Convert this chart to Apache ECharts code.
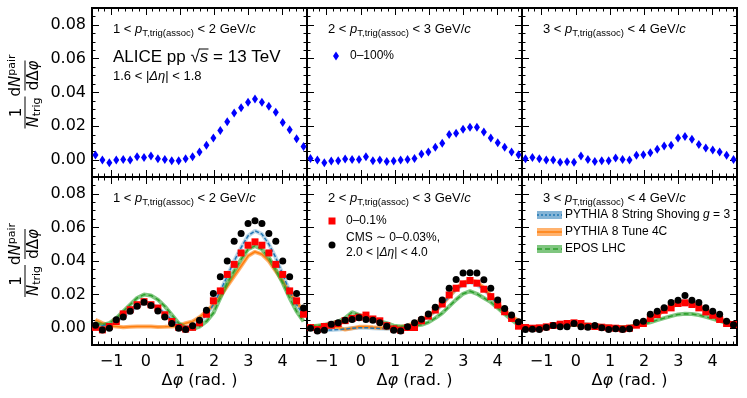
<!DOCTYPE html>
<html>
<head>
<meta charset="utf-8">
<script src="https://cdn.jsdelivr.net/npm/echarts@6/dist/echarts.min.js"></script>
<style>
html, body { margin: 0; padding: 0; background: #fff; }
#chart { width: 747px; height: 398px; }
</style>
</head>
<body>
<div id="chart"></div>
<script>
// delta phi bin centres, 31 bins over [-pi/2, 3pi/2]
var nBins = 31;
var dphi = [];
for (var i = 0; i < nBins; i++) dphi.push(-Math.PI / 2 + (i + 0.5) * 2 * Math.PI / nBins);

// top row: ALICE 0-100% (blue diamonds), one array per pT bin
var mb_pt12 = [0.003, 0.000, -0.0016, 0.000, 0.0004, 0.000, 0.002, 0.0016, 0.0024, 0.0008, 0.0004, -0.0004, -0.0004, 0.0008, 0.002, 0.0048, 0.0088, 0.0131, 0.0175, 0.0227, 0.0279, 0.031, 0.0342, 0.0362, 0.0342, 0.0318, 0.0283, 0.0223, 0.0179, 0.0127, 0.008];
var mb_pt23 = [0.001, 0.000, -0.0016, -0.0006, -0.0004, 0.0006, 0.0004, 0.0004, 0.002, -0.0004, 0.000, -0.0008, -0.0006, 0.000, 0.0004, 0.001, 0.0036, 0.0048, 0.0076, 0.010, 0.0151, 0.0159, 0.0183, 0.0195, 0.0195, 0.0167, 0.0131, 0.0103, 0.0076, 0.0048, 0.0032];
var mb_pt34 = [0.0008, 0.0016, 0.0008, 0.000, 0.000, -0.0012, -0.001, -0.0012, 0.0024, 0.0004, -0.0008, -0.0004, -0.0004, 0.0012, 0.0004, 0.000, 0.0028, 0.0032, 0.0044, 0.0064, 0.0084, 0.0088, 0.0131, 0.0139, 0.0123, 0.0092, 0.0072, 0.006, 0.0048, 0.0028, 0.0004];

// bottom row: ALICE 0-0.1% (red squares)
var hm_pt12 = [0.0005, -0.001, 0.001, 0.004, 0.0085, 0.011, 0.014, 0.0158, 0.014, 0.012, 0.008, 0.004, 0.0005, -0.0005, 0.0005, 0.0032, 0.0083, 0.0163, 0.0222, 0.032, 0.038, 0.0448, 0.0494, 0.0514, 0.0494, 0.0448, 0.038, 0.032, 0.0222, 0.0163, 0.0083];
var hm_pt23 = [0.0004, -0.0008, 0.001, 0.0018, 0.0028, 0.0045, 0.0058, 0.0065, 0.0078, 0.0055, 0.0044, 0.0015, -0.0004, -0.0012, 0.0004, 0.0004, 0.0044, 0.0072, 0.0108, 0.0144, 0.0198, 0.0238, 0.0264, 0.0284, 0.0268, 0.0232, 0.0188, 0.0138, 0.0098, 0.0058, 0.0012];
var hm_pt34 = [0.0004, 0.000, 0.0002, 0.0008, 0.0016, 0.0024, 0.0028, 0.0032, 0.0028, 0.0012, 0.001, 0.0006, 0.0002, 0.000, -0.0004, 0.000, 0.0018, 0.0028, 0.0058, 0.0081, 0.0107, 0.0121, 0.0147, 0.0151, 0.0141, 0.0121, 0.0097, 0.0077, 0.0052, 0.0028, 0.0022];

// bottom row: CMS ~0-0.03% (black circles)
var cms_pt12 = [0.0018, -0.001, 0.000, 0.005, 0.0067, 0.0101, 0.0131, 0.0155, 0.0135, 0.0103, 0.0067, 0.0028, 0.000, -0.0008, 0.0014, 0.0048, 0.0107, 0.0206, 0.0306, 0.040, 0.0518, 0.0563, 0.0623, 0.0639, 0.0623, 0.0563, 0.0518, 0.040, 0.0306, 0.0206, 0.012];
var cms_pt23 = [0.000, -0.0016, -0.0012, 0.0024, 0.0032, 0.0048, 0.0052, 0.0062, 0.0052, 0.0048, 0.0032, 0.0012, -0.0012, -0.0016, 0.0008, 0.0032, 0.0054, 0.0084, 0.0124, 0.0168, 0.0238, 0.029, 0.0328, 0.033, 0.0328, 0.0288, 0.0238, 0.0168, 0.0118, 0.0078, 0.0038];
var cms_pt34 = [-0.0008, -0.0006, -0.0008, 0.0004, 0.0016, 0.0008, 0.0008, 0.0028, 0.0008, 0.0006, 0.0016, 0.0002, -0.0008, -0.0004, -0.0008, -0.0004, 0.0034, 0.0042, 0.0083, 0.0101, 0.0121, 0.0153, 0.0167, 0.0194, 0.0167, 0.0153, 0.0121, 0.0101, 0.0083, 0.0042, 0.002];

// models: PYTHIA 8 string shoving g=3
var shov_pt12 = [0.002, 0.0015, 0.002, 0.004, 0.007, 0.010, 0.013, 0.015, 0.0145, 0.012, 0.009, 0.005, 0.002, 0.0005, 0.001, 0.0035, 0.008, 0.014, 0.022, 0.031, 0.040, 0.048, 0.055, 0.058, 0.056, 0.050, 0.042, 0.032, 0.022, 0.014, 0.008];
var shov_pt23 = [0.000, -0.0008, -0.001, -0.001, -0.0008, -0.0005, 0.000, 0.0003, 0.0003, 0.000, -0.0002, -0.0003, -0.0003, 0.000, 0.001, 0.0025, 0.0045, 0.007, 0.010, 0.014, 0.019, 0.023, 0.026, 0.0275, 0.026, 0.023, 0.019, 0.014, 0.010, 0.006, 0.003];
var shov_pt34 = [0.000, 0.0002, 0.0005, 0.001, 0.0015, 0.002, 0.0023, 0.0025, 0.0023, 0.002, 0.0015, 0.001, 0.0006, 0.0004, 0.0004, 0.0008, 0.002, 0.0035, 0.0055, 0.008, 0.0105, 0.0128, 0.0145, 0.015, 0.0145, 0.0128, 0.0105, 0.008, 0.0058, 0.004, 0.0025];
// PYTHIA 8 Tune 4C
var t4c_pt12 = [0.005, 0.003, 0.0015, 0.001, 0.0005, 0.0008, 0.001, 0.001, 0.001, 0.0007, 0.0008, 0.001, 0.0015, 0.003, 0.004, 0.0065, 0.010, 0.014, 0.019, 0.025, 0.031, 0.037, 0.043, 0.0455, 0.044, 0.040, 0.034, 0.028, 0.021, 0.015, 0.011];
var t4c_pt23 = [0.0012, 0.001, 0.0008, 0.0008, 0.0005, -0.0008, 0.000, 0.0008, 0.0008, 0.0005, 0.0003, 0.000, 0.0003, 0.0008, 0.0015, 0.003, 0.005, 0.0075, 0.0105, 0.0145, 0.019, 0.0235, 0.027, 0.0285, 0.0275, 0.024, 0.0195, 0.0145, 0.0105, 0.007, 0.0045];
var t4c_pt34 = [0.000, 0.0002, 0.0004, 0.0008, 0.0012, 0.0016, 0.002, 0.0022, 0.002, 0.0017, 0.0013, 0.001, 0.0006, 0.0004, 0.0004, 0.0008, 0.002, 0.0035, 0.0055, 0.008, 0.0105, 0.0128, 0.0145, 0.015, 0.0145, 0.0128, 0.0105, 0.008, 0.0058, 0.004, 0.0025];
// EPOS LHC
var epos_pt12 = [0.003, 0.002, 0.003, 0.006, 0.010, 0.014, 0.018, 0.020, 0.0195, 0.017, 0.013, 0.008, 0.003, 0.0005, -0.0005, 0.001, 0.004, 0.009, 0.018, 0.027, 0.034, 0.041, 0.047, 0.049, 0.047, 0.042, 0.035, 0.027, 0.018, 0.010, 0.004];
var epos_pt23 = [0.001, 0.0015, 0.002, 0.003, 0.004, 0.006, 0.0095, 0.008, 0.0065, 0.0055, 0.004, 0.003, 0.0015, 0.001, 0.001, 0.0015, 0.002, 0.0035, 0.006, 0.009, 0.013, 0.017, 0.0205, 0.022, 0.0205, 0.018, 0.0155, 0.012, 0.0085, 0.005, 0.002];
var epos_pt34 = [0.0005, 0.0005, 0.0008, 0.001, 0.0013, 0.0016, 0.0018, 0.002, 0.0022, 0.002, 0.0018, 0.0013, 0.001, 0.0006, 0.0005, 0.0008, 0.0015, 0.0025, 0.0035, 0.0048, 0.006, 0.0072, 0.0082, 0.0086, 0.0084, 0.0078, 0.0068, 0.0056, 0.0044, 0.003, 0.0015];

var ptLow = ['1', '2', '3'];
var ptHigh = ['2', '3', '4'];
var xTicks = [-1, 0, 1, 2, 3, 4];
var yTicks = [0, 0.02, 0.04, 0.06, 0.08];

var XMIN = -Math.PI / 2, XMAX = 3 * Math.PI / 2;
var YMIN = -0.01, YMAX = 0.09;
var F = 'DejaVu Sans';
var H = 'Liberation Sans';

var xMinor = [];
for (var k = -7; k <= 23; k++) { if (k % 5 !== 0) xMinor.push(k * 0.2); }
var yMinor = [];
for (var k = -1; k <= 17; k++) { if (k % 4 !== 0) yMinor.push(k * 0.005); }

var colLeft = [92, 307, 522];
var rowTop = [8, 177];
var panelW = 215, panelH = [169, 168];

var topData = [mb_pt12, mb_pt23, mb_pt34];
var hmData = [hm_pt12, hm_pt23, hm_pt34];
var cmsData = [cms_pt12, cms_pt23, cms_pt34];
var shovData = [shov_pt12, shov_pt23, shov_pt34];
var t4cData = [t4c_pt12, t4c_pt23, t4c_pt34];
var eposData = [epos_pt12, epos_pt23, epos_pt34];

function pairs(arr) { return arr.map(function (v, i) { return [dphi[i], v]; }); }

var grids = [], xAxes = [], yAxes = [], series = [];

function xAxis(p, pos, major, labels) {
  return {
    type: 'value', gridIndex: p, position: pos, min: XMIN, max: XMAX,
    axisLine: { show: false, onZero: false }, splitLine: { show: false },
    axisTick: { show: true, inside: true, length: major ? 7 : 3.5, lineStyle: { color: '#000', width: 1 },
      customValues: major ? xTicks : xMinor },
    axisLabel: { show: labels, customValues: xTicks, margin: 9, color: '#000', fontFamily: F, fontSize: 16,
      formatter: function (v) { return v < 0 ? '\u2212' + (-v) : String(v); } }
  };
}
function yAxis(p, pos, major, labels) {
  return {
    type: 'value', gridIndex: p, position: pos, min: YMIN, max: YMAX,
    axisLine: { show: false, onZero: false }, splitLine: { show: false },
    axisTick: { show: true, inside: true, length: major ? 7 : 3.5, lineStyle: { color: '#000', width: 1 },
      customValues: major ? yTicks : yMinor },
    axisLabel: { show: labels, customValues: yTicks, margin: 6, color: '#000', fontFamily: F, fontSize: 16,
      formatter: function (v) { return v.toFixed(2); } }
  };
}

for (var r = 0; r < 2; r++) {
  for (var c = 0; c < 3; c++) {
    var p = r * 3 + c;
    grids.push({ left: colLeft[c], top: rowTop[r], width: panelW, height: panelH[r],
      show: true, borderColor: '#000', borderWidth: 2, backgroundColor: 'transparent' });
    xAxes.push(xAxis(p, 'bottom', true, r === 1), xAxis(p, 'bottom', false, false),
               xAxis(p, 'top', true, false), xAxis(p, 'top', false, false));
    yAxes.push(yAxis(p, 'left', true, c === 0), yAxis(p, 'left', false, false),
               yAxis(p, 'right', true, false), yAxis(p, 'right', false, false));
    var xi = 4 * p, yi = 4 * p;
    if (r === 0) {
      series.push({ type: 'scatter', xAxisIndex: xi, yAxisIndex: yi, data: pairs(topData[c]),
        symbol: 'diamond', symbolSize: [6, 9], itemStyle: { color: '#0000ff', opacity: 1 }, z: 5 });
    } else {
      series.push({ type: 'line', xAxisIndex: xi, yAxisIndex: yi, data: pairs(shovData[c]), symbol: 'none',
        lineStyle: { color: 'rgba(31,119,180,0.3)', width: 4 }, z: 2 });
      series.push({ type: 'line', xAxisIndex: xi, yAxisIndex: yi, data: pairs(t4cData[c]), symbol: 'none',
        lineStyle: { color: 'rgba(255,127,14,0.6)', width: 4 }, z: 2 });
      series.push({ type: 'line', xAxisIndex: xi, yAxisIndex: yi, data: pairs(t4cData[c]), symbol: 'none',
        lineStyle: { color: '#ff7f0e', width: 1.5 }, z: 2 });
      series.push({ type: 'line', xAxisIndex: xi, yAxisIndex: yi, data: pairs(eposData[c]), symbol: 'none',
        lineStyle: { color: 'rgba(44,160,44,0.6)', width: 4 }, z: 3 });
      series.push({ type: 'line', xAxisIndex: xi, yAxisIndex: yi, data: pairs(eposData[c]), symbol: 'none',
        lineStyle: { color: '#2ca02c', width: 1.5, type: [5, 3] }, z: 3 });
      series.push({ type: 'line', xAxisIndex: xi, yAxisIndex: yi, data: pairs(shovData[c]), symbol: 'none',
        lineStyle: { color: '#1f77b4', width: 1.5, type: [4, 2] }, z: 4 });
      series.push({ type: 'scatter', xAxisIndex: xi, yAxisIndex: yi, data: pairs(hmData[c]),
        symbol: 'rect', symbolSize: 7, itemStyle: { color: '#ff0000', opacity: 1 }, z: 5 });
      series.push({ type: 'scatter', xAxisIndex: xi, yAxisIndex: yi, data: pairs(cmsData[c]),
        symbol: 'circle', symbolSize: 7, itemStyle: { color: '#000', opacity: 1 }, z: 6 });
    }
  }
}

// ---- text and legends as graphic elements
var rich = {
  n: { fontFamily: H, fontSize: 13, lineHeight: 18, fill: '#000' },
  i: { fontFamily: H, fontSize: 13, fontStyle: 'italic', lineHeight: 18, fill: '#000' },
  s: { fontFamily: H, fontSize: 9.5, lineHeight: 18, verticalAlign: 'bottom', fill: '#000' },
  l: { fontFamily: H, fontSize: 12, lineHeight: 16, fill: '#000' },
  li: { fontFamily: H, fontSize: 12, fontStyle: 'italic', lineHeight: 16, fill: '#000' }
};
function txt(x, y, text, extra) {
  var st = { text: text, rich: rich, fill: '#000', align: 'left', verticalAlign: 'middle' };
  if (extra) for (var key in extra) st[key] = extra[key];
  return { type: 'text', x: x, y: y, style: st, z: 100 };
}
var graphics = [];
for (var r = 0; r < 2; r++) {
  for (var c = 0; c < 3; c++) {
    graphics.push(txt(colLeft[c] + 21, rowTop[r] + 21,
      '{n|' + ptLow[c] + ' < }{i|p}{s|T,trig(assoc)}{n| < ' + ptHigh[c] + ' GeV/}{i|c}'));
  }
}
// ALICE label
graphics.push(txt(113, 57, '{a|ALICE pp }{a|\u221A}{b|s}{a| = 13 TeV}', {
  rich: { a: { fontFamily: H, fontSize: 17, fill: '#000' }, b: { fontFamily: H, fontSize: 17, fontStyle: 'italic', fill: '#000' } } }));
graphics.push({ type: 'line', shape: { x1: 199, y1: 49, x2: 208.5, y2: 49 }, style: { stroke: '#000', lineWidth: 1 }, z: 100 });
graphics.push(txt(113, 76, '{n|1.6 < |}{i|\u0394\u03B7}{n|| < 1.8}'));
// top-middle legend
graphics.push({ type: 'polygon', shape: { points: [[336, 51.5], [339, 56], [336, 60.5], [333, 56]] }, style: { fill: '#0000ff' }, z: 100 });
graphics.push(txt(350, 56, '{l|0\u2013100%}'));
// bottom-middle legend
graphics.push({ type: 'rect', shape: { x: 328.5, y: 217.5, width: 7, height: 7 }, style: { fill: '#ff0000' }, z: 100 });
graphics.push(txt(346, 221, '{l|0\u20130.1%}'));
graphics.push({ type: 'circle', shape: { cx: 332, cy: 245, r: 3.5 }, style: { fill: '#000' }, z: 100 });
graphics.push(txt(346, 238, '{l|CMS \u223C 0\u20130.03%,}'));
graphics.push(txt(346, 253, '{l|2.0 < |}{li|\u0394\u03B7}{l|| < 4.0}'));
// bottom-right legend (model bands)
var legCol = [['rgba(31,119,180,0.55)', '#1f77b4', [2, 2]], ['rgba(255,127,14,0.6)', '#ff7f0e', null], ['rgba(44,160,44,0.6)', '#2ca02c', [5, 3]]];
var legTxt = ['{l|PYTHIA 8 String Shoving }{li|g}{l| = 3}', '{l|PYTHIA 8 Tune 4C}', '{l|EPOS LHC}'];
var legY = [215, 232, 249];
for (var j = 0; j < 3; j++) {
  graphics.push({ type: 'rect', shape: { x: 537, y: legY[j] - 4, width: 25, height: 8 }, style: { fill: legCol[j][0] }, z: 100 });
  graphics.push({ type: 'line', shape: { x1: 537, y1: legY[j], x2: 562, y2: legY[j] },
    style: { stroke: legCol[j][1], lineWidth: 1.5, lineDash: legCol[j][2] }, z: 101 });
  graphics.push(txt(565, legY[j], legTxt[j]));
}
// x-axis titles
for (var c = 0; c < 3; c++) {
  graphics.push(txt(colLeft[c] + panelW / 2, 381, '{a|\u0394}{b|\u03C6}{a| (rad. )}', {
    align: 'center',
    rich: { a: { fontFamily: F, fontSize: 16, fill: '#000' }, b: { fontFamily: F, fontSize: 16, fontStyle: 'italic', fill: '#000' } } }));
}
// y-axis titles (rotated fractions)
var yrich = {
  n: { fontFamily: F, fontSize: 15, lineHeight: 18, fill: '#000' },
  i: { fontFamily: F, fontSize: 15, fontStyle: 'italic', lineHeight: 18, fill: '#000' },
  s: { fontFamily: F, fontSize: 11, lineHeight: 18, verticalAlign: 'bottom', fill: '#000' },
  u: { fontFamily: F, fontSize: 11, lineHeight: 18, verticalAlign: 'top', fill: '#000' }
};
function yt(x, y, text) {
  return { type: 'text', x: x, y: y, style: { text: text, rich: yrich, align: 'center', verticalAlign: 'middle' } };
}
for (var r = 0; r < 2; r++) {
  var cy = rowTop[r] + panelH[r] / 2 + 2;
  graphics.push({
    type: 'group', x: 25, y: cy, rotation: Math.PI / 2, z: 100,
    children: [
      yt(-18, -8, '{n|1}'),
      { type: 'line', shape: { x1: -34, y1: 0, x2: -2, y2: 0 }, style: { stroke: '#000', lineWidth: 1 } },
      yt(-18, 9, '{i|N}{s|trig}'),
      yt(19, -9, '{n|d}{i|N}{u|pair}'),
      { type: 'line', shape: { x1: 4, y1: 0, x2: 34, y2: 0 }, style: { stroke: '#000', lineWidth: 1 } },
      yt(19, 9, '{n|d\u0394}{i|\u03C6}')
    ]
  });
}

var chart = echarts.init(document.getElementById('chart'));
chart.setOption({
  animation: false,
  backgroundColor: '#fff',
  grid: grids,
  xAxis: xAxes,
  yAxis: yAxes,
  series: series,
  graphic: graphics
});
</script>
</body>
</html>
